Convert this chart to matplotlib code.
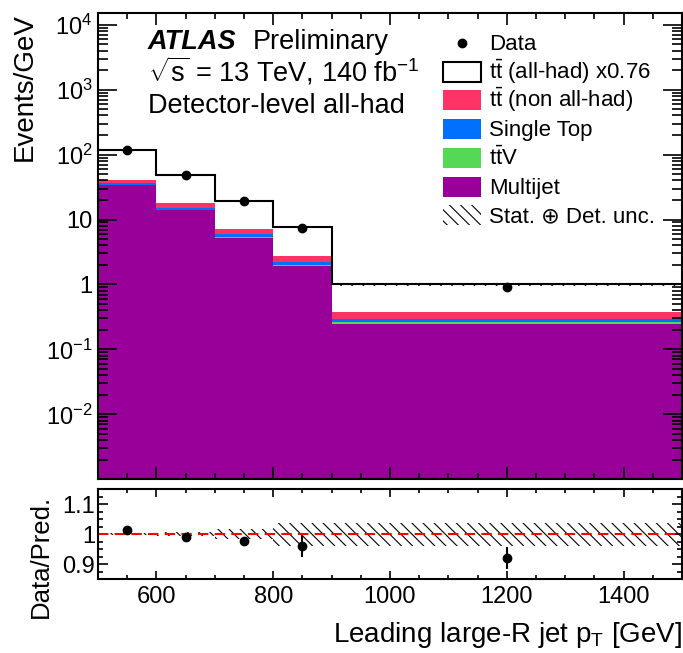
import matplotlib
matplotlib.use("Agg")
import matplotlib.pyplot as plt
import numpy as np
from matplotlib.patches import Rectangle
from matplotlib.ticker import FixedLocator, MultipleLocator, LogLocator, NullFormatter, FuncFormatter

plt.rcParams['font.family'] = ['Liberation Sans', 'DejaVu Sans']
plt.rcParams['mathtext.fontset'] = 'custom'
plt.rcParams['mathtext.rm'] = 'Liberation Sans'
plt.rcParams['mathtext.it'] = 'Liberation Sans:italic'
plt.rcParams['mathtext.bf'] = 'Liberation Sans:bold'
plt.rcParams['hatch.linewidth'] = 0.8
# ROOT-like ticks: inside, on all four sides
plt.rcParams['xtick.direction'] = 'in'
plt.rcParams['ytick.direction'] = 'in'
plt.rcParams['xtick.top'] = True
plt.rcParams['ytick.right'] = True

# bin edges in leading large-R jet pT [GeV]
edges = np.array([500, 600, 700, 800, 900, 1500])
centers = np.array([550, 650, 750, 850, 1200])

# events / GeV per process
multijet = np.array([33.4, 13.9, 5.15, 1.91, 0.248])
ttv = np.array([0.7, 0.35, 0.2, 0.09, 0.015])
single_top = np.array([2.2, 0.9, 0.55, 0.2, 0.03])
tt_nonallhad = np.array([4.9, 2.95, 1.37, 0.53, 0.087])
tt_allhad = np.array([74.8, 30.9, 12.3, 4.87, 0.62])   # already scaled x0.76

data = np.array([117.6, 48.5, 19.1, 7.3, 0.92])
data_relerr = np.array([0.003, 0.005, 0.015, 0.037, 0.04])
unc_rel = np.array([0.004, 0.006, 0.017, 0.038, 0.038])

c_mj = '#990099'
c_ttv = '#55d855'
c_st = '#0070ff'
c_nah = '#ff3366'
HATCH = '\\\\\\'

W, H = 683, 653
fig = plt.figure(figsize=(W / 100, H / 100), dpi=100)
ax = fig.add_axes([0.1435, 0.266, 0.855, 0.7146])
rax = fig.add_axes([0.1435, 0.1129, 0.855, 0.1378])

# stacked histograms, bottom to top
bottom = np.full(len(multijet), 1e-6)
for vals, col in [(multijet, c_mj), (ttv, c_ttv), (single_top, c_st), (tt_nonallhad, c_nah)]:
    top = bottom + vals
    ax.stairs(top, edges, baseline=bottom, fill=True, color=col, lw=0)
    bottom = top
total = bottom + tt_allhad
ax.stairs(total, edges, baseline=bottom, fill=True, color='white', lw=0)
ax.stairs(total, edges, baseline=None, color='k', lw=1.5)
ax.stairs(total * (1 + unc_rel), edges, baseline=total * (1 - unc_rel), fill=True,
          facecolor='none', edgecolor='k', lw=0, hatch=HATCH)

ax.errorbar(centers, data, yerr=data * data_relerr, fmt='o', color='k', ms=6,
            elinewidth=1.5, capsize=0)

ax.set_yscale('log')
ax.set_xlim(500, 1500)
ax.set_ylim(1e-3, 1.53e4)

def logfmt(v, pos):
    e = int(round(np.log10(v)))
    if e == 0:
        return '1'
    if e == 1:
        return '10'
    return r'$\mathrm{10^{%d}}$' % e

ax.yaxis.set_major_locator(FixedLocator([1e-2, 1e-1, 1, 10, 1e2, 1e3, 1e4]))
ax.yaxis.set_major_formatter(FuncFormatter(logfmt))
ax.yaxis.set_minor_locator(LogLocator(base=10, subs=np.arange(2, 10), numticks=20))
ax.yaxis.set_minor_formatter(NullFormatter())
ax.xaxis.set_major_locator(MultipleLocator(200))
ax.xaxis.set_minor_locator(MultipleLocator(50))
ax.tick_params(axis='x', which='both', labelbottom=False)
ax.tick_params(which='both', width=1.2)
ax.tick_params(axis='y', which='major', length=14, labelsize=17, pad=4)
ax.tick_params(axis='y', which='minor', length=7)
ax.tick_params(axis='x', which='major', length=8.5)
ax.tick_params(axis='x', which='minor', length=4.3)
ax.set_ylabel('Events/GeV', fontsize=20, loc='top')
ax.yaxis.set_label_coords(-0.103, 1.0)

ax.text(0.0856, 0.9216, 'ATLAS', transform=ax.transAxes, fontsize=19.5,
        fontweight='bold', fontstyle='italic', va='baseline')
ax.text(0.265, 0.9216, 'Preliminary', transform=ax.transAxes, fontsize=19.5, va='baseline')
ax.text(0.0856, 0.852, r'$\sqrt{\mathrm{s}}$ = 13 TeV, 140 fb$^{\mathrm{-1}}$',
        transform=ax.transAxes, fontsize=19.5, va='baseline')
ax.text(0.0856, 0.7857, 'Detector-level all-had', transform=ax.transAxes,
        fontsize=19.5, va='baseline')

# legend, one row per entry (pixel rows converted to axes fractions)
def axx(px):
    return (px - 98) / 584.0

def axy(py):
    return (479.3 - py) / 466.6

rows = [42.7, 71.7, 100.3, 129.0, 158.0, 187.0, 215.5]
labels = ['Data', r'$\mathrm{t\bar{t}}$ (all-had) x0.76', r'$\mathrm{t\bar{t}}$ (non all-had)',
          'Single Top', r'$\mathrm{t\bar{t}V}$', 'Multijet', 'Stat. ⊕ Det. unc.']
fills = [None, 'white', c_nah, c_st, c_ttv, c_mj, 'hatch']
bw, bh = 38, 20
for yrow, lab, fc in zip(rows, labels, fills):
    if fc is None:
        ax.plot([axx(462)], [axy(yrow)], 'o', color='k', ms=6, transform=ax.transAxes)
    else:
        x0, y0 = axx(443), axy(yrow + bh / 2)
        w, h = bw / 584.0, bh / 466.6
        if fc == 'hatch':
            r = Rectangle((x0, y0), w, h, facecolor='none', edgecolor='k', lw=0,
                          hatch=HATCH, transform=ax.transAxes)
        elif fc == 'white':
            r = Rectangle((x0, y0), w, h, facecolor='white', edgecolor='k', lw=1.5,
                          transform=ax.transAxes)
        else:
            r = Rectangle((x0, y0), w, h, facecolor=fc, lw=0, transform=ax.transAxes)
        ax.add_patch(r)
    ax.text(axx(489), axy(yrow + 7), lab, transform=ax.transAxes, fontsize=16, va='baseline')

for s in ax.spines.values():
    s.set_linewidth(1.5)

# ratio panel
ratio = data / total
rax.stairs(1 + unc_rel, edges, baseline=1 - unc_rel, fill=True, facecolor='none',
           edgecolor='k', lw=0, hatch=HATCH)
rax.axhline(1.0, color='red', ls=(0, (5, 3)), lw=1.5)
rax.errorbar(centers, ratio, yerr=ratio * data_relerr, fmt='o', color='k', ms=6,
             elinewidth=1.5, capsize=0)
rax.set_xlim(500, 1500)
rax.set_ylim(0.85, 1.15)
rax.yaxis.set_major_locator(FixedLocator([0.9, 1.0, 1.1]))
rax.yaxis.set_major_formatter(FuncFormatter(lambda v, p: '1' if abs(v - 1) < 1e-6 else '%.1f' % v))
rax.yaxis.set_minor_locator(MultipleLocator(0.025))
rax.xaxis.set_major_locator(MultipleLocator(200))
rax.xaxis.set_minor_locator(MultipleLocator(50))
rax.tick_params(which='both', width=1.2, labelsize=17)
rax.tick_params(axis='y', which='major', length=7, pad=2)
rax.tick_params(axis='y', which='minor', length=3.5)
rax.tick_params(axis='x', which='major', length=5.5, pad=5)
rax.tick_params(axis='x', which='minor', length=3)
rax.set_ylabel('Data/Pred.', fontsize=18.5, loc='top')
rax.yaxis.set_label_coords(-0.077, 0.94)
rax.set_xlabel(r'Leading large-R jet $\mathrm{p_{T}}$ [GeV]', fontsize=20, loc='right')
rax.xaxis.set_label_coords(1.0, -0.45)
for s in rax.spines.values():
    s.set_linewidth(1.5)

fig.savefig('out.png', dpi=100)
